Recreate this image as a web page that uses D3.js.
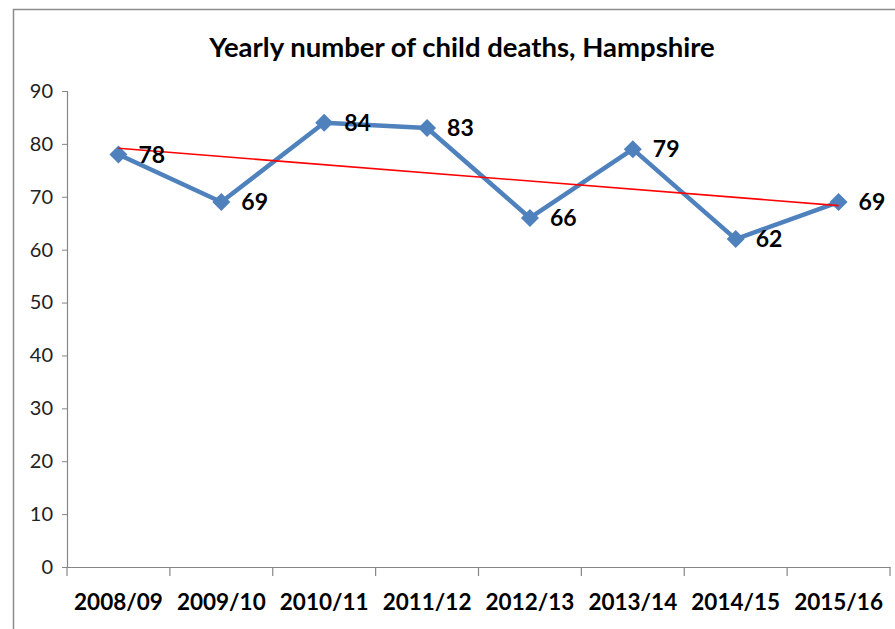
<!DOCTYPE html>
<html><head><meta charset="utf-8">
<script src="https://cdn.jsdelivr.net/npm/d3@7/dist/d3.min.js"></script>
<style>body{margin:0;background:#fff;}svg{display:block;}</style>
</head><body>
<svg id="c" width="895" height="629"></svg>
<script>
const categories = ["2008/09","2009/10","2010/11","2011/12","2012/13","2013/14","2014/15","2015/16"];
const deaths = [78,69,84,83,66,79,62,69];
const yTicks = [0,10,20,30,40,50,60,70,80,90];
const title = "Yearly number of child deaths, Hampshire";

(function(){
const svg = d3.select("#c");
const font = "Lato, 'Open Sans', sans-serif";
const mLeft = 67, mRight = 890, mTop = 91, mBottom = 567;

// outer border
svg.append("rect").attr("x",13.5).attr("y",9.5).attr("width",900).attr("height",640)
  .attr("fill","none").attr("stroke","#8c8c8c").attr("stroke-width",1.5);

const x = d3.scaleBand().domain(categories).range([mLeft,mRight]);
const y = d3.scaleLinear().domain([0,90]).range([mBottom,mTop]);

svg.append("text").attr("x",462).attr("y",57).attr("text-anchor","middle")
  .attr("font-family",font).attr("font-weight","bold").attr("font-size",27.5)
  .attr("fill","#000").text(title);

// y axis
const yAxis = svg.append("g").attr("transform",`translate(${mLeft},0)`)
  .call(d3.axisLeft(y).tickValues(yTicks).tickSize(5).tickPadding(9));
yAxis.select(".domain").attr("stroke","#868686").attr("stroke-width",1.2);
yAxis.selectAll(".tick line").attr("stroke","#868686");
yAxis.selectAll("text").attr("font-family",font).attr("font-size",20).attr("fill","#222");

// x axis
const xAxis = svg.append("g").attr("transform",`translate(0,${mBottom})`)
  .call(d3.axisBottom(x).tickSize(0).tickPadding(27));
xAxis.select(".domain").attr("stroke","#868686").attr("stroke-width",1.2);
xAxis.selectAll("text").attr("font-family",font).attr("font-weight","bold").attr("font-size",22.5).attr("fill","#000");
const bounds = categories.map(c=>x(c)).concat([mRight]);
xAxis.selectAll(".bnd").data(bounds).enter().append("line")
  .attr("x1",d=>d).attr("x2",d=>d).attr("y1",0).attr("y2",9)
  .attr("stroke","#868686").attr("stroke-width",1.2);

const cx = c => x(c) + x.bandwidth()/2;
const pts = categories.map((c,i)=>({c, v:deaths[i]}));

svg.append("path").datum(pts)
  .attr("d", d3.line().x(d=>cx(d.c)).y(d=>y(d.v)))
  .attr("fill","none").attr("stroke","#4f81bd").attr("stroke-width",4.5).attr("stroke-linejoin","round");

svg.selectAll(".m").data(pts).enter().append("path")
  .attr("transform",d=>`translate(${cx(d.c)},${y(d.v)})`)
  .attr("d","M0,-9L9,0L0,9L-9,0Z").attr("fill","#4f81bd");

// linear trend line (least squares over the series)
const n = deaths.length;
const xs = d3.range(1,n+1);
const mx = d3.mean(xs), my = d3.mean(deaths);
const slope = d3.sum(xs.map((xi,i)=>(xi-mx)*(deaths[i]-my))) / d3.sum(xs.map(xi=>(xi-mx)*(xi-mx)));
const icpt = my - slope*mx;
svg.append("line")
  .attr("x1",cx(categories[0])).attr("y1",y(icpt+slope*1))
  .attr("x2",cx(categories[n-1])).attr("y2",y(icpt+slope*n))
  .attr("stroke","#ff0000").attr("stroke-width",1.6);

svg.selectAll(".lbl").data(pts).enter().append("text")
  .attr("x",d=>cx(d.c)+20).attr("y",d=>y(d.v)).attr("dy","0.36em")
  .attr("font-family",font).attr("font-weight","bold").attr("font-size",23).attr("fill","#000")
  .text(d=>d.v);
})();
</script>
</body></html>
